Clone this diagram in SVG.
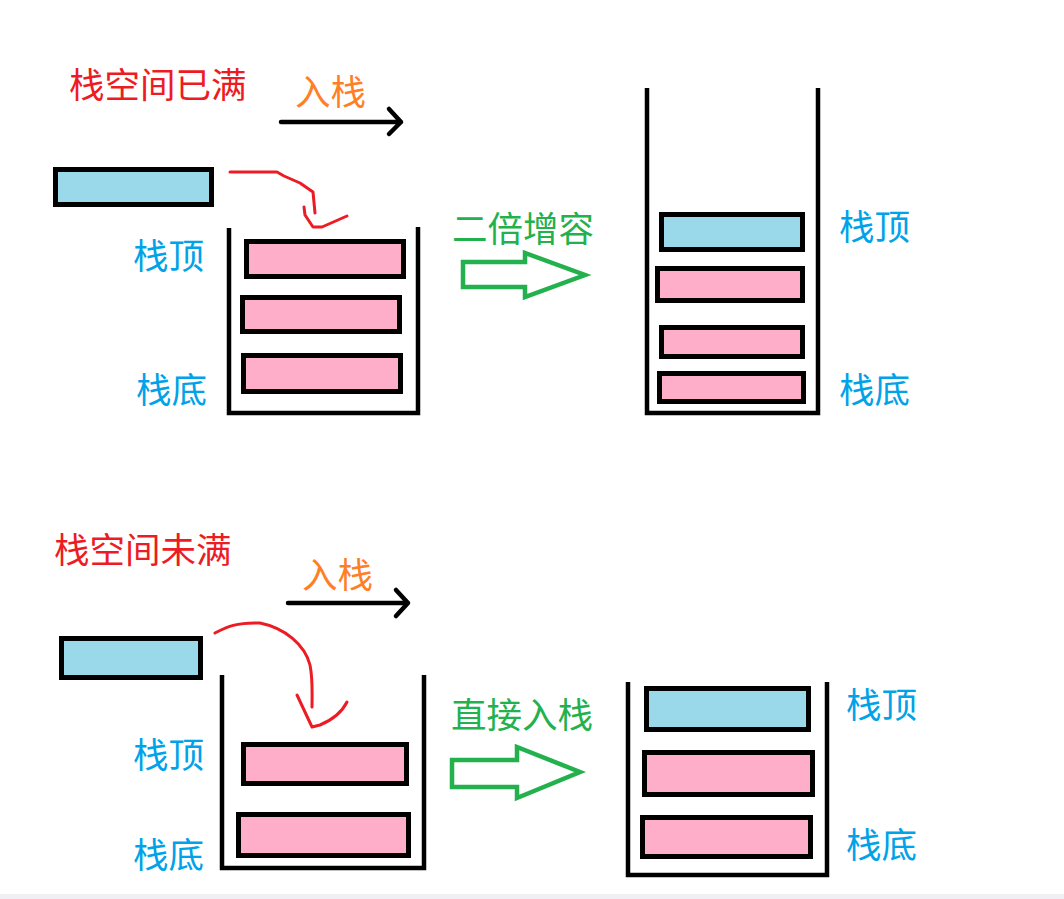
<svg xmlns="http://www.w3.org/2000/svg" width="1064" height="899" viewBox="0 0 1064 899">
<style>
text{font-family:"Noto Sans CJK SC","Noto Sans",sans-serif;font-size:35.5px}
.red{fill:#ed1c24}.org{fill:#ff7f27}.lbl{fill:#00a2e8}.grn{fill:#22b14c}
.blk{fill:#99d9ea;stroke:#000;stroke-width:5}
.pnk{fill:#ffaec9;stroke:#000;stroke-width:5}
.wall{fill:none;stroke:#000;stroke-width:4.5;stroke-linejoin:miter}
.push{fill:none;stroke:#000;stroke-width:4.5;stroke-linecap:round;stroke-linejoin:round}
.curve{fill:none;stroke:#ed1c24;stroke-width:3;stroke-linecap:round;stroke-linejoin:round}
.hollow{fill:none;stroke:#22b14c;stroke-width:4.5;stroke-linejoin:miter}
</style>
<rect width="1064" height="899" fill="#fff"/>
<rect x="0" y="894" width="1064" height="5" fill="#f0eff4"/>

<g id="title-full"><text class="red" x="69" y="98">栈空间已满</text></g>
<g id="label-push-1"><text class="org" x="295" y="105">入栈</text></g>
<g id="new-item-1"><rect class="blk" x="55.5" y="169.5" width="156" height="35"/></g>
<g id="stack-full">
<path class="wall" d="M229,228 V413 H418 V227"/>
<rect class="pnk" x="246.5" y="241.5" width="157" height="35"/>
<rect class="pnk" x="242.5" y="297.5" width="157" height="34"/>
<rect class="pnk" x="243.5" y="355.5" width="157" height="36"/>
</g>
<g id="labels-full"><text class="lbl" x="133" y="269">栈顶</text><text class="lbl" x="136" y="403">栈底</text></g>
<g id="label-double"><text class="grn" x="452" y="242">二倍增容</text></g>
<g id="stack-expanded">
<path class="wall" d="M647,88 V413 H818 V88"/>
<rect class="blk" x="661.5" y="214.5" width="141" height="35"/>
<rect class="pnk" x="657.5" y="268.5" width="145" height="32"/>
<rect class="pnk" x="661.5" y="327.5" width="141" height="29"/>
<rect class="pnk" x="659.5" y="373.5" width="144" height="28"/>
</g>
<g id="labels-expanded"><text class="lbl" x="839" y="240">栈顶</text><text class="lbl" x="839" y="403">栈底</text></g>

<g id="title-notfull"><text class="red" x="54" y="563">栈空间未满</text></g>
<g id="label-push-2"><text class="org" x="302" y="588">入栈</text></g>
<g id="new-item-2"><rect class="blk" x="61.5" y="638.5" width="139" height="39"/></g>
<g id="stack-notfull">
<path class="wall" d="M222,675 V868 H424 V675"/>
<rect class="pnk" x="243.5" y="744.5" width="163" height="39"/>
<rect class="pnk" x="238.5" y="814.5" width="170" height="41"/>
</g>
<g id="labels-notfull"><text class="lbl" x="133" y="768">栈顶</text><text class="lbl" x="133" y="868">栈底</text></g>
<g id="label-direct"><text class="grn" x="451" y="728">直接入栈</text></g>
<g id="stack-pushed">
<path class="wall" d="M628,682 V875 H827 V682"/>
<rect class="blk" x="646.5" y="688.5" width="162" height="41"/>
<rect class="pnk" x="644.5" y="752.5" width="168" height="42"/>
<rect class="pnk" x="642.5" y="817.5" width="168" height="39"/>
</g>
<g id="labels-pushed"><text class="lbl" x="846" y="718">栈顶</text><text class="lbl" x="846" y="858">栈底</text></g>

<g id="connectors">
<path class="push" d="M281,122 H401 M389,109 L401,122 L389,134"/>
<path class="push" d="M288,603 H408 M396,590 L408,603 L396,616"/>
<path class="curve" d="M230,172 H277 L284,176 L300,183 L313,192 L315,213"/>
<path class="curve" d="M304,207 L305,215 L313,227 L322,227 L347,216"/>
<path class="curve" d="M215,633 C225,628 235,622 260,623 C285,628 305,645 310,665 C313,680 312,695 312,707"/>
<path class="curve" d="M297,695 L312,727 L320,725 C332,720 342,712 347,702"/>
<path class="hollow" d="M463,262 H525 V253 L585,275 L525,297 V287 H463 Z"/>
<path class="hollow" d="M452,760 H517 V747 L580,772 L517,798 V787 H452 Z"/>
</g>
</svg>
